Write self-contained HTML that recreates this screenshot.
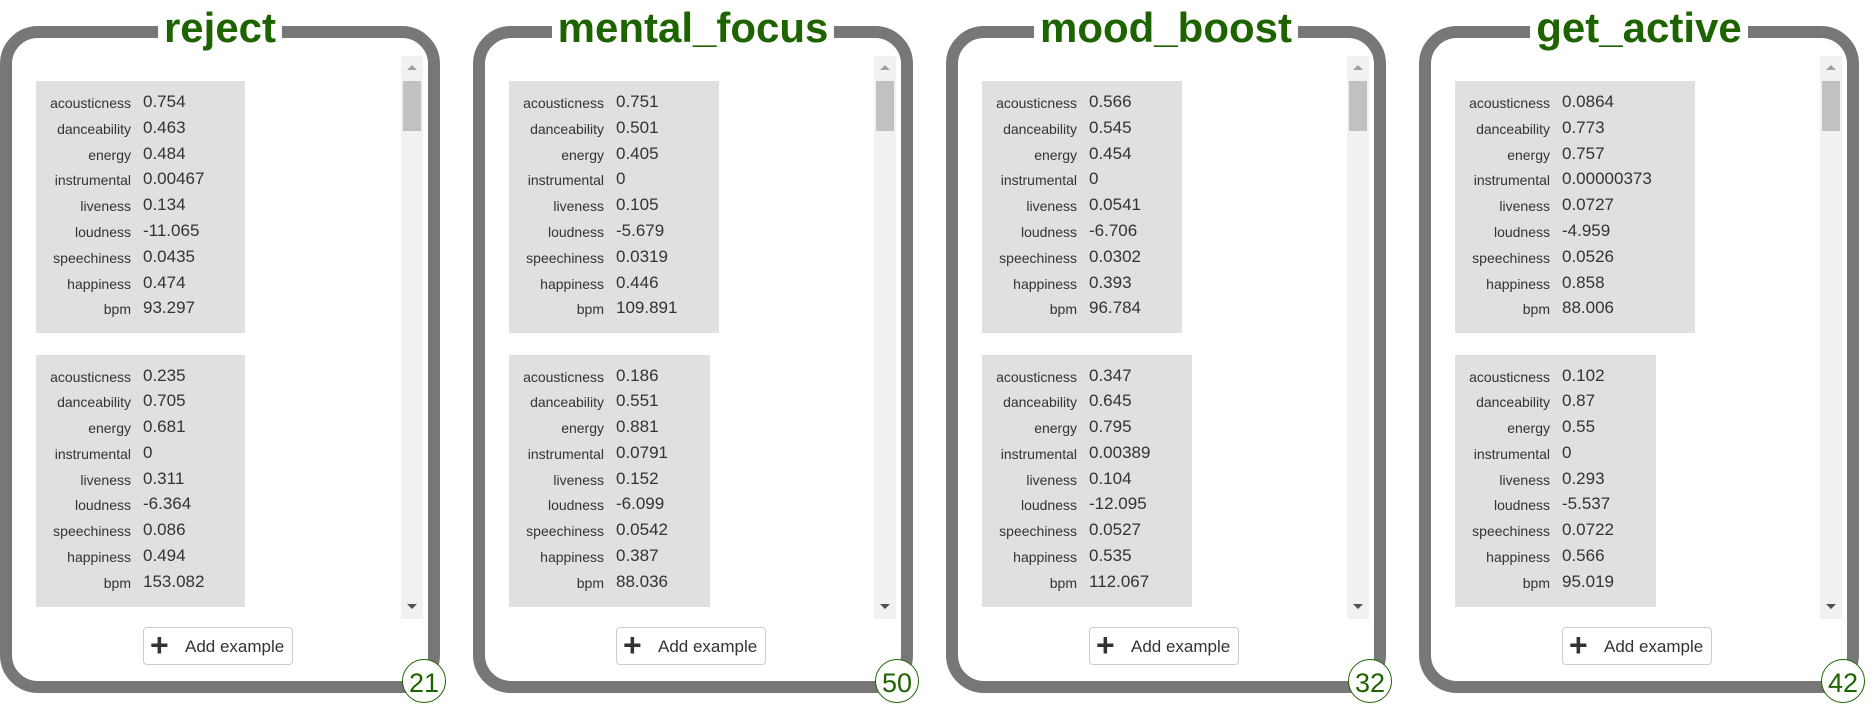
<!DOCTYPE html>
<html><head><meta charset="utf-8"><style>
body{margin:0;width:1873px;height:703px;background:#fff;font-family:"Liberation Sans",sans-serif;position:relative;overflow:hidden}
.card{position:absolute;top:26px;width:440px;height:667px;box-sizing:border-box;border:12px solid #777;border-radius:38px;background:#fff}
.title{position:absolute;top:-35px;left:0;right:0;text-align:center;font-weight:bold;font-size:42px;color:#1d6400;line-height:50px}
.title span{background:#fff;padding:0 6px}
.scroll{position:absolute;left:24px;top:18px;width:399px;height:563px;overflow:hidden}
.box{position:absolute;left:0;background:#e0e0e0;height:252px;box-sizing:border-box;padding-top:9px}
.row{height:25.8px;position:relative;color:#333}
.lab{position:absolute;right:calc(100% - 95px);width:95px;text-align:right;font-size:14px;top:5px;white-space:nowrap}
.val{position:absolute;left:107px;font-size:17px;top:2px;white-space:nowrap}
.sb{position:absolute;left:365px;top:0;width:22px;height:563px;background:#f1f1f1}
.thumb{position:absolute;left:2px;top:25px;width:18px;height:50px;background:#c1c1c1}
.up,.dn{position:absolute;left:6px;width:0;height:0;border-left:5px solid transparent;border-right:5px solid transparent}
.up{top:9px;border-bottom:5px solid #a0a0a0}.dn{bottom:10px;border-top:5px solid #505050}
.btn{position:absolute;left:131px;top:589px;width:150px;height:38px;box-sizing:border-box;border:1px solid #ccc;border-radius:4px;background:#fff;font-size:17px;color:#333}
.btn .plus{position:absolute;left:6px;top:1px;font-size:32px;font-weight:bold;line-height:32px}
.btn .t{position:absolute;left:41px;top:9px}
.badge{position:absolute;left:390px;top:621px;width:44px;height:44px;border-radius:50%;border:1.5px solid #1d6400;background:#fff;color:#1d6400;font-size:27px;text-align:center;line-height:46px;box-sizing:border-box}
</style></head><body>
<script>
const labels=["acousticness","danceability","energy","instrumental","liveness","loudness","speechiness","happiness","bpm"];
const titles=["reject","mental_focus","mood_boost","get_active"];
const counts=["21","50","32","42"];
const examples=[
[["0.754","0.463","0.484","0.00467","0.134","-11.065","0.0435","0.474","93.297"],["0.235","0.705","0.681","0","0.311","-6.364","0.086","0.494","153.082"]],
[["0.751","0.501","0.405","0","0.105","-5.679","0.0319","0.446","109.891"],["0.186","0.551","0.881","0.0791","0.152","-6.099","0.0542","0.387","88.036"]],
[["0.566","0.545","0.454","0","0.0541","-6.706","0.0302","0.393","96.784"],["0.347","0.645","0.795","0.00389","0.104","-12.095","0.0527","0.535","112.067"]],
[["0.0864","0.773","0.757","0.00000373","0.0727","-4.959","0.0526","0.858","88.006"],["0.102","0.87","0.55","0","0.293","-5.537","0.0722","0.566","95.019"]]
];
const boxW=[[209,209],[210,201],[200,210],[240,201]];
titles.forEach((t,c)=>{
 const card=document.createElement('div');card.className='card';card.style.left=(c*473)+'px';
 
 
 const ti=document.createElement('div');ti.className='title';ti.innerHTML='<span>'+t+'</span>';
 
 
 card.appendChild(ti);
 const sc=document.createElement('div');sc.className='scroll';
 
 
 examples[c].forEach((ex,e)=>{
  const b=document.createElement('div');b.className='box';b.style.top=(25+e*273.5)+'px';b.style.width=boxW[c][e]+'px';
  
  
  labels.forEach((l,i)=>{
   const r=document.createElement('div');r.className='row';
   
   
   r.innerHTML='<span class="lab">'+l+'</span><span class="val">'+ex[i]+'</span>';
   b.appendChild(r);
  });
  sc.appendChild(b);
 });
 const sb=document.createElement('div');sb.className='sb';
 
 
 sb.innerHTML='<div class="up"></div><div class="thumb"></div><div class="dn"></div>';
 sc.appendChild(sb);
 card.appendChild(sc);
 const bt=document.createElement('div');bt.className='btn';bt.innerHTML='<span class="plus">+</span><span class="t">Add example</span>';
 
 
 card.appendChild(bt);
 const bd=document.createElement('div');bd.className='badge';bd.textContent=counts[c];
 
 
 card.appendChild(bd);
 document.body.appendChild(card);
});
</script>
</body></html>
